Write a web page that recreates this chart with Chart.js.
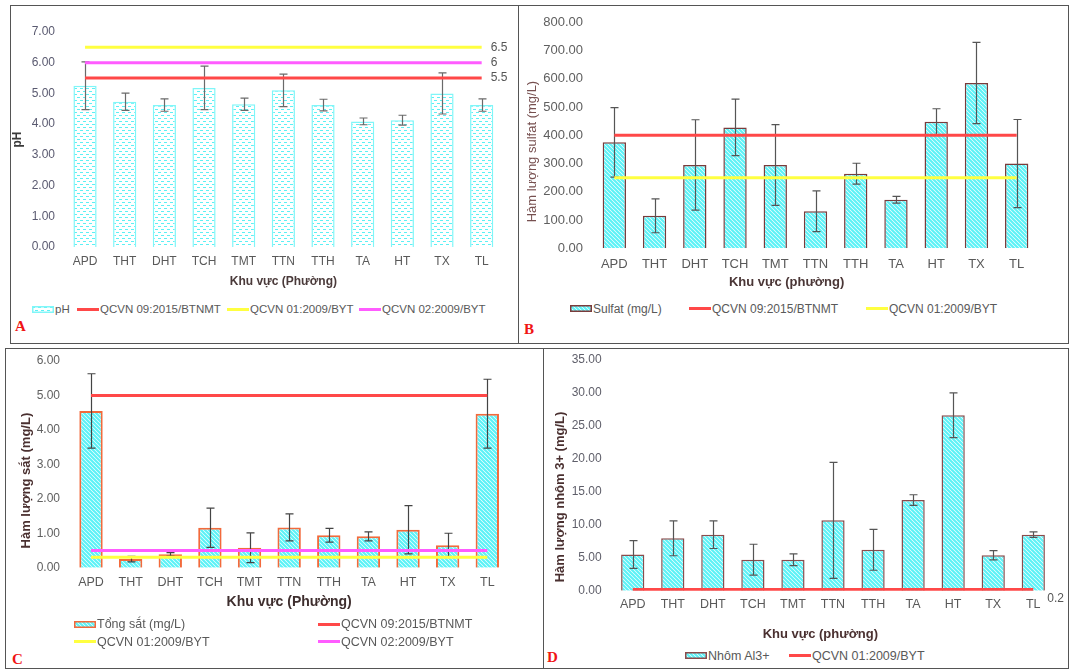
<!DOCTYPE html>
<html>
<head>
<meta charset="utf-8">
<script src="https://cdn.jsdelivr.net/npm/chart.js@4.4.1/dist/chart.umd.min.js"></script>
<style>
  body { margin: 0; width: 1070px; height: 669px; background: #fff; position: relative; overflow: hidden;
         font-family: "Liberation Sans", Arial, sans-serif; }
  .panel { position: absolute; box-sizing: border-box; border: 1.5px solid #555; }
  .cv { position: absolute; }
  .leg { position: absolute; height: 16px; font-size: 12px; color: #595959; white-space: nowrap;
         display: flex; align-items: center; gap: 1px; }
  .tag { position: absolute; font-family: "Liberation Serif", serif; font-weight: bold; color: #f01414;
         font-size: 15px; line-height: 15px; }
</style>
</head>
<body>

<div class="panel" style="left:10px;top:5px;width:509px;height:339px"></div>
<div class="panel" style="left:518px;top:5px;width:551px;height:339px"></div>
<div class="panel" style="left:5px;top:348px;width:539px;height:321px"></div>
<div class="panel" style="left:543px;top:348px;width:526px;height:321px"></div>

<div class="cv" id="wrapA"><canvas id="chartA"></canvas></div>
<div class="cv" id="wrapB"><canvas id="chartB"></canvas></div>
<div class="cv" id="wrapC"><canvas id="chartC"></canvas></div>
<div class="cv" id="wrapD"><canvas id="chartD"></canvas></div>

<div class="tag" style="left:15px;top:319px">A</div>
<div class="tag" style="left:524px;top:322px">B</div>
<div class="tag" style="left:12px;top:652px">C</div>
<div class="tag" style="left:547px;top:650px">D</div>

<script>
// Areas (phường)
const areas = ['APD', 'THT', 'DHT', 'TCH', 'TMT', 'TTN', 'TTH', 'TA', 'HT', 'TX', 'TL'];

// A - pH
const phMean = [5.25, 4.73, 4.62, 5.18, 4.65, 5.10, 4.62, 4.09, 4.13, 5.00, 4.62];
const phErr  = [0.78, 0.28, 0.20, 0.71, 0.20, 0.53, 0.19, 0.11, 0.16, 0.67, 0.20];
const phStdNames  = ['QCVN 09:2015/BTNMT', 'QCVN 01:2009/BYT', 'QCVN 02:2009/BYT'];
const phStdValues = [5.5, 6.5, 6];

// B - sulfat
const sulfatMean = [375, 115, 295, 428, 295, 131, 264, 172, 448, 585, 300];
const sulfatErr  = [123, 60, 160, 100, 143, 72, 37, 12, 46, 144, 156];
const sulfatStdNames  = ['QCVN 09:2015/BTNMT', 'QCVN 01:2009/BYT'];
const sulfatStdValues = [400, 250];

// C - tổng sắt
const ironMean = [4.55, 0.25, 0.39, 1.16, 0.58, 1.17, 0.94, 0.91, 1.10, 0.65, 4.47];
const ironErr  = [1.08, 0.08, 0.05, 0.57, 0.43, 0.39, 0.20, 0.13, 0.70, 0.35, 1.00];
const ironStdNames  = ['QCVN 09:2015/BTNMT', 'QCVN 01:2009/BYT', 'QCVN 02:2009/BYT'];
const ironStdValues = [5, 0.3, 0.5];

// D - nhôm
const alMean = [5.50, 7.95, 8.50, 4.70, 4.70, 10.68, 6.20, 13.76, 26.62, 5.37, 8.50];
const alErr  = [2.10, 2.65, 2.10, 2.35, 0.90, 8.80, 3.10, 0.80, 3.40, 0.70, 0.42];
const alStdNames  = ['QCVN 01:2009/BYT'];
const alStdValues = [0.2];

const RED = '#ff4848', YELLOW = '#ffff40', MAGENTA = '#ff5cff';
Chart.defaults.font.family = '"Liberation Sans", Arial, sans-serif';
Chart.defaults.animation = false;

// bar fills
function dashPattern() {
    const c = document.createElement('canvas');
    c.width = 6; c.height = 6;
    const g = c.getContext('2d');
    g.fillStyle = '#ffffff'; g.fillRect(0, 0, 6, 6);
    g.fillStyle = '#5cf0f4';
    g.fillRect(0, 1, 3, 1);
    g.fillRect(3, 4, 3, 1);
    return g.createPattern(c, 'repeat');
}
function hatchPattern() {
    const c = document.createElement('canvas');
    c.width = 4; c.height = 4;
    const g = c.getContext('2d');
    g.fillStyle = '#ffffff'; g.fillRect(0, 0, 4, 4);
    g.strokeStyle = '#5cf2f7'; g.lineWidth = 2.2;
    g.beginPath();
    g.moveTo(-1, -1); g.lineTo(5, 5);
    g.moveTo(-1, 3); g.lineTo(1, 5);
    g.moveTo(3, -1); g.lineTo(5, 1);
    g.stroke();
    return g.createPattern(c, 'repeat');
}

// error bars drawn right after the bar dataset
const errorBars = {
    id: 'errorBars',
    afterDatasetDraw(chart, args) {
        const ds = chart.data.datasets[args.index];
        if (!ds.errors) return;
        const y = chart.scales.y, ctx = chart.ctx;
        ctx.save();
        ctx.strokeStyle = ds.errorColor;
        ctx.lineWidth = 1.2;
        args.meta.data.forEach((bar, i) => {
            const top = y.getPixelForValue(ds.data[i] + ds.errors[i]);
            const bot = y.getPixelForValue(ds.data[i] - ds.errors[i]);
            const x = Math.round(bar.x) + 0.5;
            ctx.beginPath();
            ctx.moveTo(x, top); ctx.lineTo(x, bot);
            ctx.moveTo(x - 4, top); ctx.lineTo(x + 4, top);
            ctx.moveTo(x - 4, bot); ctx.lineTo(x + 4, bot);
            ctx.stroke();
        });
        ctx.restore();
    }
};

// value labels at the right end of standard lines
const endLabels = {
    id: 'endLabels',
    afterDatasetsDraw(chart, args, opts) {
        if (!opts.show) return;
        const ctx = chart.ctx;
        ctx.save();
        ctx.font = '12px "Liberation Sans", Arial, sans-serif';
        ctx.fillStyle = '#555';
        ctx.textBaseline = 'middle';
        chart.data.datasets.forEach((ds, i) => {
            if (ds.type !== 'line') return;
            const pts = chart.getDatasetMeta(i).data;
            const p = pts[pts.length - 1];
            ctx.fillText(String(ds.data[1].y), p.x + opts.dx, p.y + opts.dy);
        });
        ctx.restore();
    }
};

function stdLine(name, value, color) {
    return {
        type: 'line', label: name, order: 1,
        data: [{ x: areas[0], y: value }, { x: areas[areas.length - 1], y: value }],
        borderColor: color, backgroundColor: color, borderWidth: 3,
        pointRadius: 0, fill: false
    };
}

function makeChart(id, L, datasets, yMax, yStep, endOpts) {
    const wrap = document.getElementById('wrap' + id);
    wrap.style.left = L.box.x + 'px'; wrap.style.top = L.box.y + 'px';
    wrap.style.width = L.box.w + 'px'; wrap.style.height = L.box.h + 'px';
    const xLH = L.xTickSize * 1.2, xTitleLH = L.xTitleSize * 1.2, yTitleLH = L.yTitleSize * 1.2;
    return new Chart(document.getElementById('chart' + id), {
        data: { labels: areas, datasets: datasets },
        plugins: [errorBars, endLabels],
        options: {
            responsive: true, maintainAspectRatio: false,
            layout: { padding: { left: 0, bottom: 0, top: L.plot.t - L.box.y, right: L.box.x + L.box.w - L.plot.r } },
            plugins: { legend: { display: false }, tooltip: { enabled: false }, endLabels: endOpts },
            scales: {
                x: {
                    grid: { display: false, drawTicks: false }, border: { display: false },
                    ticks: { color: '#595959', font: { size: L.xTickSize }, padding: L.xTickY - L.plot.b - xLH / 2, maxRotation: 0, autoSkip: false },
                    title: { display: true, text: L.xTitle, color: L.xTitleColor, font: { size: L.xTitleSize, weight: 'bold' },
                             padding: { top: 0, bottom: L.box.y + L.box.h - L.xTitleY - xTitleLH / 2 } },
                    afterFit(s) { s.height = L.box.y + L.box.h - L.plot.b; }
                },
                y: {
                    min: 0, max: yMax,
                    grid: { display: false, drawTicks: false }, border: { display: false },
                    ticks: { stepSize: yStep, color: L.yTickColor, font: { size: L.yTickSize }, padding: L.plot.l - L.yLabelRight,
                             callback: v => v.toFixed(2) },
                    title: { display: true, text: L.yTitle, color: L.yTitleColor,
                             font: { size: L.yTitleSize, weight: L.yTitleWeight },
                             padding: { top: L.yTitleX - L.box.x - yTitleLH / 2, bottom: 0 } },
                    afterFit(s) { s.width = L.plot.l - L.box.x; }
                }
            }
        }
    });
}

function addLegend(chart, items, fontSize) {
    items.forEach(([idx, x, y]) => {
        const ds = chart.data.datasets[idx];
        const el = document.createElement('div');
        el.className = 'leg';
        el.style.left = x + 'px'; el.style.top = (y - 8) + 'px'; el.style.fontSize = fontSize + 'px';
        let sw;
        if (ds.type === 'line') {
            sw = document.createElement('span');
            sw.style.cssText = 'display:inline-block;width:22px;height:3px;background:' + ds.borderColor;
        } else {
            sw = document.createElement('canvas');
            sw.width = 22; sw.height = 7;
            const g = sw.getContext('2d');
            g.fillStyle = ds.backgroundColor; g.fillRect(0, 0, 22, 7);
            g.strokeStyle = ds.borderColor; g.lineWidth = 1.5; g.strokeRect(0.75, 0.75, 20.5, 5.5);
        }
        el.appendChild(sw);
        const t = document.createElement('span');
        t.textContent = ds.label;
        el.appendChild(t);
        document.body.appendChild(el);
    });
}

document.addEventListener('DOMContentLoaded', function() {
    // A
    const chartA = makeChart('A', {
        box: { x: 11, y: 6, w: 506, h: 292 }, plot: { l: 65.2, t: 32, r: 501.5, b: 247 },
        xTickSize: 12, xTickY: 262, xTitle: 'Khu vực (Phường)', xTitleSize: 12, xTitleY: 282, xTitleColor: '#4a3a3a',
        yTickSize: 12, yTickColor: '#5a5a70', yLabelRight: 55,
        yTitle: 'pH', yTitleSize: 12, yTitleWeight: 'bold', yTitleColor: '#3a3a3a', yTitleX: 18
    }, [
        { type: 'bar', label: 'pH', order: 3, data: phMean, errors: phErr, errorColor: '#6a6a6a',
          backgroundColor: dashPattern(), borderColor: '#80f6f8', borderWidth: 1.5,
          categoryPercentage: 1, barPercentage: 0.585 },
        stdLine(phStdNames[0], phStdValues[0], RED),
        stdLine(phStdNames[1], phStdValues[1], YELLOW),
        stdLine(phStdNames[2], phStdValues[2], MAGENTA)
    ], 7, 1, { show: true, dx: 9, dy: 0 });
    addLegend(chartA, [[0, 32, 309], [1, 77, 309], [2, 227, 309], [3, 359, 309]], 11.5);

    // B
    const chartB = makeChart('B', {
        box: { x: 519, y: 1, w: 548, h: 297 }, plot: { l: 594.2, t: 22.3, r: 1036.8, b: 248.3 },
        xTickSize: 13, xTickY: 264, xTitle: 'Khu vực (phường)' + ' '.repeat(16), xTitleSize: 13, xTitleY: 282, xTitleColor: '#4a3636',
        yTickSize: 13, yTickColor: '#5f5f5f', yLabelRight: 583,
        yTitle: 'Hàm lượng sulfat (mg/L)' + ' '.repeat(9), yTitleSize: 13, yTitleWeight: 'normal', yTitleColor: '#775050', yTitleX: 532.3
    }, [
        { type: 'bar', label: 'Sulfat (mg/L)', order: 3, data: sulfatMean, errors: sulfatErr, errorColor: '#555',
          backgroundColor: hatchPattern(), borderColor: '#7a3b3b', borderWidth: 1.5,
          categoryPercentage: 1, barPercentage: 0.58 },
        stdLine(sulfatStdNames[0], sulfatStdValues[0], RED),
        stdLine(sulfatStdNames[1], sulfatStdValues[1], YELLOW)
    ], 800, 100, { show: false });
    addLegend(chartB, [[0, 570, 308.5], [1, 689, 308.5], [2, 866, 308.5]], 12);

    // C
    const chartC = makeChart('C', {
        box: { x: 6, y: 339, w: 536, h: 279 }, plot: { l: 71.2, t: 361, r: 507.1, b: 567.7 },
        xTickSize: 12.5, xTickY: 582.7, xTitle: 'Khu vực (Phường)', xTitleSize: 14, xTitleY: 602, xTitleColor: '#3e2e2e',
        yTickSize: 12, yTickColor: '#5f5f5f', yLabelRight: 60,
        yTitle: 'Hàm lượng sắt (mg/L)' + ' '.repeat(9), yTitleSize: 13, yTitleWeight: 'bold', yTitleColor: '#4a3030', yTitleX: 26.7
    }, [
        { type: 'bar', label: 'Tổng sắt (mg/L)', order: 3, data: ironMean, errors: ironErr, errorColor: '#444',
          backgroundColor: hatchPattern(), borderColor: '#f26a3c', borderWidth: 2,
          categoryPercentage: 1, barPercentage: 0.59 },
        stdLine(ironStdNames[0], ironStdValues[0], RED),
        stdLine(ironStdNames[1], ironStdValues[1], YELLOW),
        stdLine(ironStdNames[2], ironStdValues[2], MAGENTA)
    ], 6, 1, { show: false });
    addLegend(chartC, [[0, 74, 624.3], [1, 318, 624.3], [2, 74, 641.7], [3, 318, 641.7]], 12.5);

    // D
    const chartD = makeChart('D', {
        box: { x: 544, y: 338, w: 523, h: 307 }, plot: { l: 612.7, t: 360, r: 1053.3, b: 590.7 },
        xTickSize: 12.5, xTickY: 604.3, xTitle: 'Khu vực (phường)' + ' '.repeat(7), xTitleSize: 13, xTitleY: 634.3, xTitleColor: '#4a3030',
        yTickSize: 12, yTickColor: '#5f5f6a', yLabelRight: 601.7,
        yTitle: 'Hàm lượng nhôm 3+ (mg/L)' + ' '.repeat(12), yTitleSize: 13, yTitleWeight: 'bold', yTitleColor: '#4a3030', yTitleX: 560
    }, [
        { type: 'bar', label: 'Nhôm Al3+', order: 3, data: alMean, errors: alErr, errorColor: '#555',
          backgroundColor: hatchPattern(), borderColor: '#8b4c4c', borderWidth: 1.5,
          categoryPercentage: 1, barPercentage: 0.58 },
        stdLine(alStdNames[0], alStdValues[0], RED)
    ], 35, 5, { show: true, dx: 14, dy: 9 });
    addLegend(chartD, [[0, 685, 655.7], [1, 789, 655.7]], 12.5);
});
</script>
</body>
</html>
